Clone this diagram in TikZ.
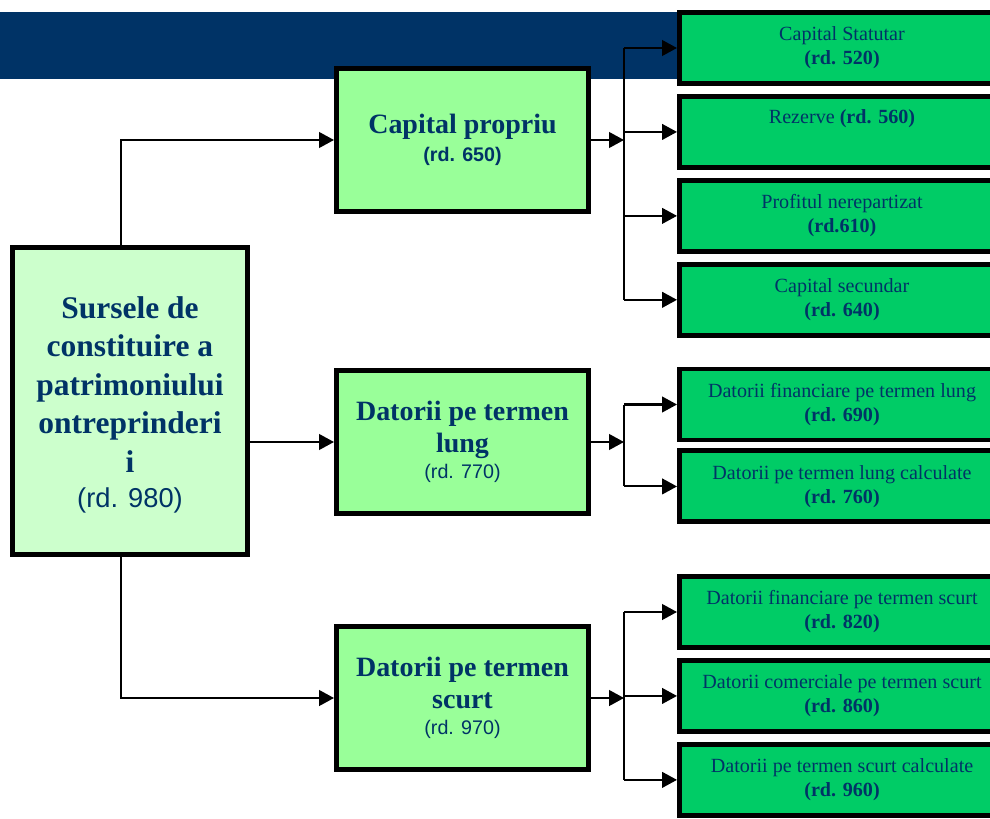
\documentclass[tikz,border=0pt]{standalone}
\usepackage{fontspec}
\setmainfont{Liberation Serif}
\setsansfont{Liberation Sans}
\usetikzlibrary{arrows.meta}
\usetikzlibrary{positioning, calc}

\definecolor{barblue}{HTML}{003366}
\definecolor{srcgreen}{HTML}{CCFFCC}
\definecolor{midgreen}{HTML}{99FF99}
\definecolor{itemgreen}{HTML}{00CC66}

\begin{document}
\begin{tikzpicture}[x=0.025cm,y=-0.025cm,
    box/.style={draw=black,line width=3.5pt,align=center,text=barblue,inner sep=0pt},
    srcbox/.style={box,fill=srcgreen,minimum width=5.875cm,minimum height=7.675cm,
      font=\fontsize{22.4}{27.4}\selectfont\bfseries},
    midbox/.style={box,fill=midgreen,minimum width=6.3cm,minimum height=3.575cm,
      font=\fontsize{19.9}{22.8}\selectfont\bfseries},
    itembox/.style={box,fill=itemgreen,minimum width=8.125cm,minimum height=1.775cm,
      font=\fontsize{14.3}{17}\selectfont},
    conn/.style={line width=1.5pt,-{Triangle[length=10.5pt,width=11pt]}},
    trunk/.style={line width=1.5pt}]
  \useasboundingbox (0,0) rectangle (990,819);
  % title bar
  \fill[barblue] (0,12) rectangle (990,79);

  % source and the three groups
  \node[srcbox] (src) at (130,401) {\rule{0pt}{21pt}Sursele de\\constituire a\\patrimoniului\\ontreprinderi\\i\\[-2pt]
    {\sffamily\mdseries\fontsize{19.4}{22}\selectfont (rd. 980)}};
  \node[midbox] (cap) at (462.5,140) {Capital propriu\\[-3pt]
    {\sffamily\fontsize{14}{16}\selectfont (rd. 650)}};
  \node[midbox] (lung) at (462.5,442) {Datorii pe termen\\lung\\[-4pt]
    {\sffamily\mdseries\fontsize{14}{16}\selectfont (rd. 770)}};
  \node[midbox] (scurt) at (462.5,698) {Datorii pe termen\\scurt\\[-4pt]
    {\sffamily\mdseries\fontsize{14}{16}\selectfont (rd. 970)}};

  % capital propriu items
  \node[itembox] (c520) at (842,48) {Capital Statutar\\\textbf{(rd. 520)}};
  \node[itembox, below=0.2cm of c520] (c560) {Rezerve \textbf{(rd. 560)}\\\strut};
  \node[itembox, below=0.2cm of c560] (c610) {Profitul nerepartizat\\\textbf{(rd.610)}};
  \node[itembox, below=0.2cm of c610] (c640) {Capital secundar\\\textbf{(rd. 640)}};
  % long term items
  \node[itembox] (d690) at (842,404.5) {Datorii financiare pe termen lung\\\textbf{(rd. 690)}};
  \node[itembox, below=0.15cm of d690] (d760) {Datorii pe termen lung calculate\\\textbf{(rd. 760)}};
  % short term items
  \node[itembox] (d820) at (842,612) {Datorii financiare pe termen scurt\\\textbf{(rd. 820)}};
  \node[itembox, below=0.2cm of d820] (d860) {Datorii comerciale pe termen scurt\\\textbf{(rd. 860)}};
  \node[itembox, below=0.2cm of d860] (d960) {Datorii pe termen scurt calculate\\\textbf{(rd. 960)}};

  % left connectors
  \draw[conn] ([xshift=-0.225cm]src.north) |- (cap.west);
  \draw[conn] (src.east |- lung.west) -- (lung.west);
  \draw[conn] ([xshift=-0.225cm]src.south) |- (scurt.west);

  % right connectors
  \coordinate (capj) at (624,140);
  \coordinate (lungj) at (624,442);
  \coordinate (scurtj) at (624,698);
  \draw[conn] (cap.east) -- (capj);
  \draw[conn] (lung.east) -- (lungj);
  \draw[conn] (scurt.east) -- (scurtj);
  \draw[trunk] (capj |- c520.west) -- (capj |- c640.west);
  \draw[trunk] (lungj |- d690.west) -- (lungj |- d760.west);
  \draw[trunk] (scurtj |- d820.west) -- (scurtj |- d960.west);
  \foreach \n in {c520,c560,c610,c640}
    \draw[conn] (capj |- \n.west) -- (\n.west);
  \foreach \n in {d690,d760}
    \draw[conn] (lungj |- \n.west) -- (\n.west);
  \foreach \n in {d820,d860,d960}
    \draw[conn] (scurtj |- \n.west) -- (\n.west);
\end{tikzpicture}
\end{document}
